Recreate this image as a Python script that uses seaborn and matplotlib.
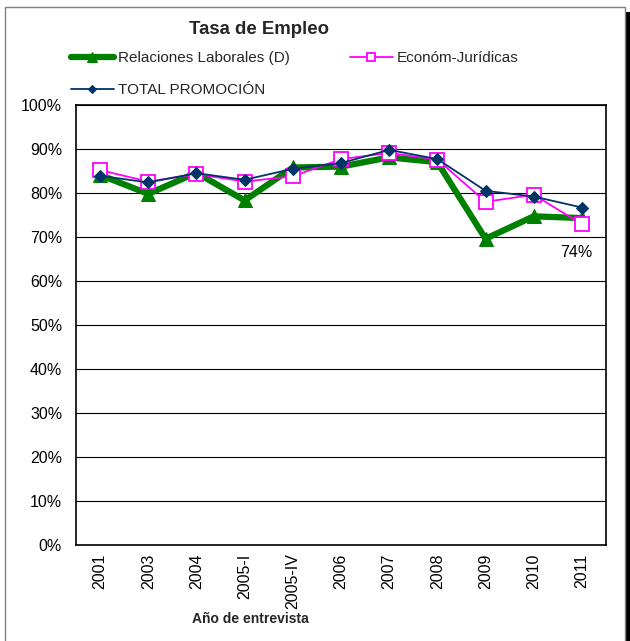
import matplotlib
matplotlib.use("Agg")
import matplotlib.pyplot as plt
from matplotlib.patches import Rectangle
from matplotlib.ticker import PercentFormatter
import seaborn as sns
import pandas as pd

# ---- data ----
years = ["2001", "2003", "2004", "2005-I", "2005-IV", "2006", "2007", "2008", "2009", "2010", "2011"]
relaciones = [84.1, 79.8, 84.6, 78.3, 85.8, 86.0, 88.1, 87.0, 69.6, 74.7, 74.3]
economicas = [85.2, 82.6, 84.3, 82.6, 83.8, 87.7, 89.1, 87.6, 78.0, 79.6, 72.9]
total = [83.9, 82.4, 84.5, 83.0, 85.5, 86.8, 89.8, 87.7, 80.5, 79.2, 76.7]
series_names = ["Relaciones Laborales (D)", "Económ-Jurídicas", "TOTAL PROMOCIÓN"]
title = "Tasa de Empleo"
xlabel = "Año de entrevista"

sns.set_theme(style="white")
plt.rcParams["font.family"] = ["Liberation Sans", "DejaVu Sans"]

fig = plt.figure(figsize=(6.3, 6.41), dpi=100)
W, H = 630, 641
ax = fig.add_axes([76 / W, 1 - 545 / H, 530 / W, 440 / H])

df = pd.DataFrame({"year": years, "rel": relaciones, "eco": economicas, "tot": total})

sns.lineplot(data=df, x="year", y="rel", ax=ax, sort=False, color="#008000", lw=4.5,
             marker="^", markersize=10.5, markeredgecolor="#008000", label=series_names[0], zorder=2)
sns.lineplot(data=df, x="year", y="eco", ax=ax, sort=False, color="#FF00FF", lw=1.3,
             marker="s", markersize=9.5, markerfacecolor="white", markeredgecolor="#FF00FF",
             markeredgewidth=1.3, label=series_names[1], zorder=3)
sns.lineplot(data=df, x="year", y="tot", ax=ax, sort=False, color="#003366", lw=1.3,
             marker="D", markersize=6.5, markeredgecolor="#003366", label=series_names[2], zorder=4)

ax.set_xlim(-0.5, len(years) - 0.5)
ax.set_ylim(0, 100)
ax.set_yticks(range(0, 101, 10))
ax.yaxis.set_major_formatter(PercentFormatter(decimals=0))
ax.grid(axis="y", color="black", lw=0.8)
ax.grid(axis="x", visible=False)
for s in ax.spines.values():
    s.set_color("black")
    s.set_linewidth(1.2)
ax.tick_params(axis="y", length=0, pad=10, labelsize=11.5, colors="black")
ax.tick_params(axis="x", length=0, pad=6, labelsize=11.5, colors="black", labelrotation=90)
ax.set_xlabel("")
ax.set_ylabel("")

# data label on the last point of the first series
ax.annotate(f"{round(relaciones[-1])}%", xy=(len(years) - 1, relaciones[-1]),
            xytext=(-4, -24.5), textcoords="offset points", ha="center", va="center",
            fontsize=11.5, color="black")

# legend
handles, labels = ax.get_legend_handles_labels()
ax.get_legend().remove()
order = [0, 2, 1]
leg = fig.legend([handles[i] for i in order], [labels[i] for i in order],
                 loc="upper left", bbox_to_anchor=(71 / W, 1 - 51 / H), ncol=2,
                 frameon=False, fontsize=11, handlelength=2.8, handletextpad=0.3,
                 columnspacing=3.9, labelspacing=1.2, borderpad=0, borderaxespad=0)
for h in leg.legend_handles:
    h.set_markersize(h.get_markersize() * 0.65)

fig.text(259 / W, 1 - 29 / H, title, ha="center", va="center", fontsize=13.4, fontweight="bold")
fig.text(250 / W, 1 - 619 / H, xlabel, ha="center", va="center", fontsize=10, fontweight="bold")

# outer frame with shadow
fig.patches.append(Rectangle((626 / W, 0), 4 / W, 1 - 12 / H, transform=fig.transFigure,
                             facecolor="black", edgecolor="none", zorder=0))
fig.patches.append(Rectangle((5 / W, -0.05), 620 / W, 1.05 - 7 / H, transform=fig.transFigure,
                             facecolor="none", edgecolor="#808080", lw=1.0, zorder=1))

fig.savefig("out.png", dpi=100)
